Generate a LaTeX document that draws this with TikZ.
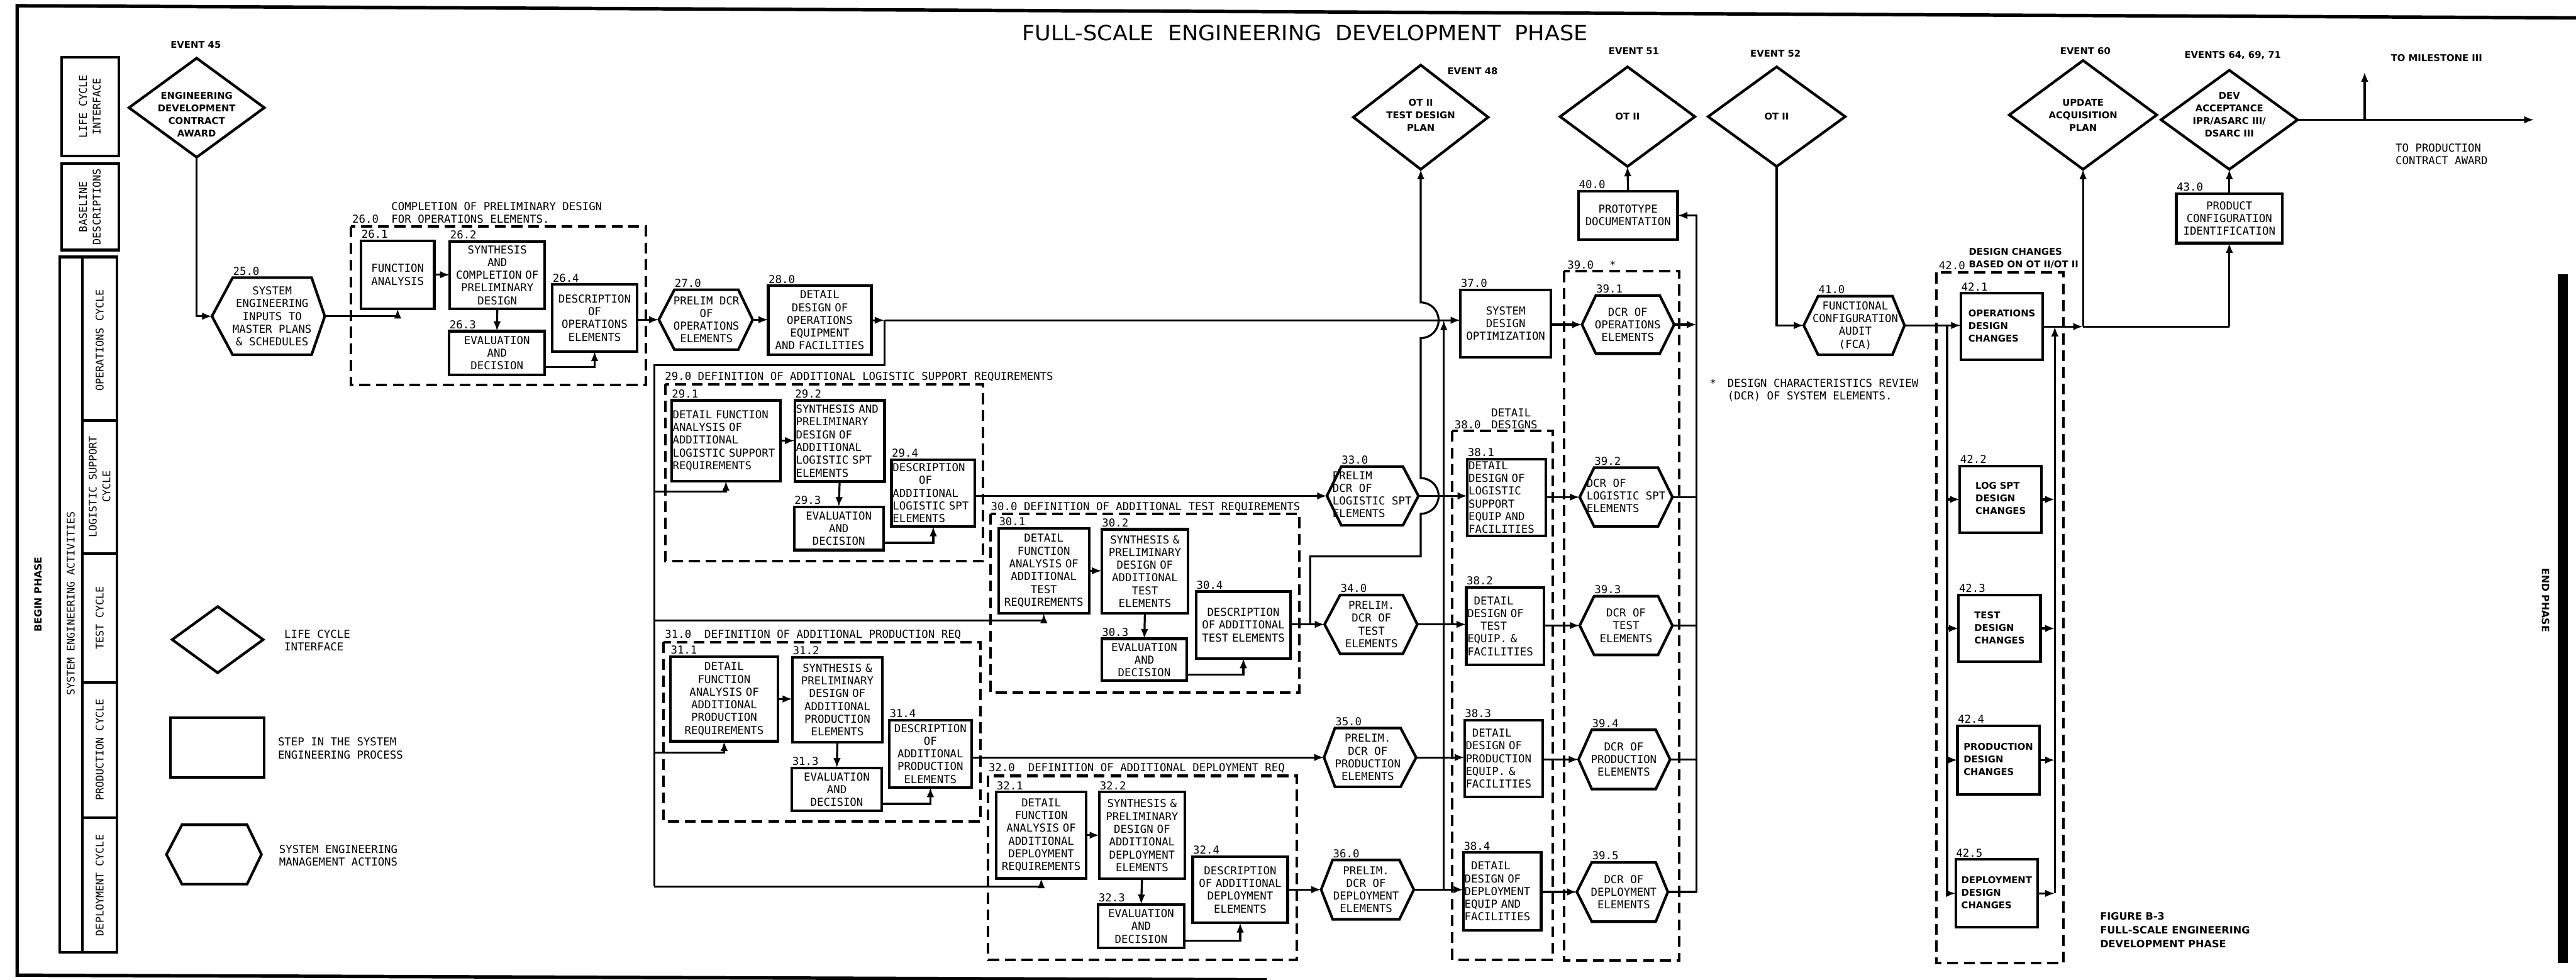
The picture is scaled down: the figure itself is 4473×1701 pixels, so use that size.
\documentclass[tikz,border=0pt]{standalone}
\usepackage{fontspec}
\usepackage{graphicx}
\usetikzlibrary{shapes.geometric,arrows.meta,calc}
\newfontfamily\monofam{DejaVu Sans Mono}
\newfontfamily\sansfam{DejaVu Sans}
\newcommand\mono{\monofam\fontsize{5.4}{6.3}\selectfont}
\newcommand\bfnt{\sansfam\bfseries\fontsize{4.6}{6.2}\selectfont}
\newcommand\figfnt{\sansfam\bfseries\fontsize{5}{6.8}\selectfont}
\newcommand\phasefnt{\sansfam\bfseries\fontsize{4.9}{6}\selectfont}
\newcommand\sidefnt{\monofam\fontsize{5.2}{6.8}\selectfont}
\newcommand{\lft}[1]{\begin{tabular}{@{}l@{}}#1\end{tabular}}
% box: [opts]{name}{num}{x1}{y1}{x2}{y2}{align}{text}
\newcommand{\bx}[9][]{%
  \pgfmathsetmacro\bxcx{(#4+#6)/2}\pgfmathsetmacro\bxcy{(#5+#7)/2}%
  \pgfmathsetmacro\bxw{(#6-#4)/10}\pgfmathsetmacro\bxh{(#7-#5)/10}%
  \pgfmathsetmacro\bxtw{(#6-#4)/10-0.4}%
  \node[box, minimum width=\bxw mm, minimum height=\bxh mm, text width=\bxtw mm, align=#8, #1] (#2) at (\bxcx,\bxcy) {#9};%
  \node[numlbl] (#2n) at (#2.north west) {#3};%
}
% hexagon: {name}{num}{Lx}{x1}{y1}{x2}{y2}{Rx}{text}
\newcommand{\hx}[9]{%
  \pgfmathsetmacro\hxcx{(#4+#6)/2}\pgfmathsetmacro\hxcy{(#5+#7)/2}%
  \pgfmathsetmacro\hxw{(#6-#4)/10}\pgfmathsetmacro\hxh{(#7-#5)/10}%
  \pgfmathsetmacro\hxl{(#4-#3)/10}\pgfmathsetmacro\hxr{(#8-#6)/10}%
  \node[hexcore, minimum width=\hxw mm, minimum height=\hxh mm] (#1) at (\hxcx,\hxcy) {};%
  \draw[hexline] (#1.north west) -- (#1.north east) -- ([xshift=\hxr mm]#1.east) coordinate (#1-R) -- (#1.south east) -- (#1.south west) -- ([xshift=-\hxl mm]#1.west) coordinate (#1-L) -- cycle;%
  \node[boxtext] (#1t) at (#1.center) {#9};%
  \node[numlbl] (#1n) at (#1.north west) {#2};%
}
\begin{document}
\begin{tikzpicture}[x=0.1mm,y=-0.1mm,
  box/.style={draw, line width=1.3pt, shape=rectangle, inner xsep=0.2mm, inner ysep=0.3mm, outer sep=0pt, font=\mono},
  hexcore/.style={draw=none, shape=rectangle, inner sep=0pt, outer sep=0pt},
  hexline/.style={draw, line width=1.3pt, line join=miter},
  boxtext/.style={inner sep=0pt, font=\mono, align=center},
  numlbl/.style={anchor=south west, inner sep=0pt, yshift=0.35mm, font=\mono},
  dia/.style={diamond, draw, line width=1.3pt, inner sep=0pt, outer sep=0pt},
  btext/.style={font=\bfnt, align=center, inner sep=0pt},
  conn/.style={line width=1.0pt},
  arr/.style={conn, -{Latex[length=1.7mm,width=1.3mm]}},
  dashbox/.style={line width=1.25pt, dash pattern=on 1.9mm off 1.0mm},
  lbl/.style={font=\mono, inner sep=0pt, anchor=west},
  side/.style={font=\sidefnt, inner sep=0pt, rotate=90, align=center},
  frm/.style={line width=1.3pt},
]
\useasboundingbox (0,0) rectangle (4473,1701);
\fill[white] (0,0) rectangle (4473,1701);

% ---------- frame ----------
\draw[line width=1.7pt] (4473,31) -- (30,10) -- (30,1693) -- (2200,1701);
\fill (4441,476) rectangle (4459,1672);
\node[font=\phasefnt, rotate=90, inner sep=0pt] (begin) at (66,1032) {BEGIN PHASE};
\node[font=\phasefnt, rotate=-90, inner sep=0pt] (endp) at (4420,1042) {END PHASE};

% ---------- title ----------
\node[inner sep=0pt] (title) at (2266,57.5) {\resizebox{98.2mm}{2.7mm}{\sansfam FULL-SCALE\ \ ENGINEERING\ \ DEVELOPMENT\ \ PHASE}};

% ---------- left panel ----------
\draw[frm] (107,99) rectangle (206,271);
\draw[frm] (107,284) rectangle (206,434);
\draw[frm] (104,446) rectangle (203,1653);
\draw[frm] (143,446) -- (143,1653);
\foreach \yy in {730,961,1185,1420} \draw[frm] (143,\yy) -- (203,\yy);
\node[side] (sLCI) at (156,185) {LIFE CYCLE\\INTERFACE};
\node[side] (sBD) at (156,359) {BASELINE\\DESCRIPTIONS};
\node[side] (sSEA) at (123,1048) {SYSTEM ENGINEERING ACTIVITIES};
\node[side] (sOC) at (173,591) {OPERATIONS CYCLE};
\node[side] (sLC) at (173,845) {LOGISTIC SUPPORT\\CYCLE};
\node[side] (sTC) at (173,1073) {TEST CYCLE};
\node[side] (sPC) at (173,1302) {PRODUCTION CYCLE};
\node[side] (sDC) at (173,1537) {DEPLOYMENT CYCLE};

% ---------- legend ----------
\node[dia, minimum width=15.8mm, minimum height=11.5mm] (legD) at (378,1110.5) {};
\node[lbl, align=left] (legDt) at (493,1112) {LIFE CYCLE\\INTERFACE};
\bx{legS}{}{296}{1246}{459}{1350}{center}{}
\node[lbl, align=left] (legSt) at (482,1299) {STEP IN THE SYSTEM\\ENGINEERING PROCESS};
\hx{legH}{}{289}{316}{1432}{429}{1535}{454}{}
\node[lbl, align=left] (legHt) at (484,1485) {SYSTEM ENGINEERING\\MANAGEMENT ACTIONS};

% ---------- diamonds (life cycle interfaces) ----------
\node[dia, minimum width=23.5mm, minimum height=17.2mm] (E45) at (341.5,187) {};
\node[btext, yshift=-1.2mm] (E45t) at (E45) {ENGINEERING\\DEVELOPMENT\\CONTRACT\\AWARD};
\node[btext] (E45l) at (340,78) {EVENT 45};

\node[dia, minimum width=23.4mm, minimum height=18.1mm] (E48) at (2467,203.5) {};
\node[btext, yshift=0.4mm] (E48t) at (E48) {OT II\\TEST DESIGN\\PLAN};
\node[btext] (E48l) at (2557,124) {EVENT 48};

\node[dia, minimum width=23.4mm, minimum height=17.3mm] (E51) at (2826,202.5) {};
\node[btext] (E51t) at (E51) {OT II};
\node[btext] (E51l) at (2837,89) {EVENT 51};

\node[dia, minimum width=23.8mm, minimum height=17.3mm] (E52) at (3085,202.5) {};
\node[btext] (E52t) at (E52) {OT II};
\node[btext] (E52l) at (3083,93) {EVENT 52};

\node[dia, minimum width=25.6mm, minimum height=18.9mm] (E60) at (3617,199.5) {};
\node[btext] (E60t) at (E60) {UPDATE\\ACQUISITION\\PLAN};
\node[btext] (E60l) at (3621,89) {EVENT 60};

\node[dia, minimum width=23.7mm, minimum height=17.2mm] (E64) at (3871,208) {};
\node[btext, yshift=0.9mm] (E64t) at (E64) {DEV\\ACCEPTANCE\\IPR/ASARC III/\\DSARC III};
\node[btext] (E64l) at (3877,96) {EVENTS 64, 69, 71};

\node[font=\bfnt, anchor=west, inner sep=0pt] (tm3) at (4151,101) {TO MILESTONE III};
\node[lbl, align=left] (tpca) at (4159,268) {TO PRODUCTION\\CONTRACT AWARD};

% ---------- dashed groups ----------
\draw[dashbox] (609,393) rectangle (1121,668);
\draw[dashbox] (1155,667) rectangle (1707,974);
\draw[dashbox] (1720,892) rectangle (2256,1202);
\draw[dashbox] (1152,1115) rectangle (1703,1426);
\draw[dashbox] (1716,1347) rectangle (2252,1666);
\draw[dashbox] (2522,748) rectangle (2696,1666);
\draw[dashbox] (2716,471) rectangle (2916,1668);
\draw[dashbox] (3362,473) rectangle (3583,1672);

\node[lbl] (g26a) at (679,358) {COMPLETION OF PRELIMINARY DESIGN};
\node[lbl] (g26n) at (611,380) {26.0};
\node[lbl] (g26b) at (679,380) {FOR OPERATIONS ELEMENTS.};
\node[lbl] (g29) at (1154,654) {29.0 DEFINITION OF ADDITIONAL LOGISTIC SUPPORT REQUIREMENTS};
\node[lbl] (g30) at (1720,880) {30.0 DEFINITION OF ADDITIONAL TEST REQUIREMENTS};
\node[lbl] (g31) at (1154,1102) {31.0\ \ DEFINITION OF ADDITIONAL PRODUCTION REQ};
\node[lbl] (g32) at (1716,1334) {32.0\ \ DEFINITION OF ADDITIONAL DEPLOYMENT REQ};
\node[lbl] (g38n) at (2525,737) {38.0};
\node[lbl] (g38a) at (2589,716) {DETAIL};
\node[lbl] (g38b) at (2589,737) {DESIGNS};
\node[lbl] (g39n) at (2721,460) {39.0};
\node[lbl] (g39s) at (2794,460) {*};
\node[lbl] (g42n) at (3366,461) {42.0};
\node[font=\bfnt, anchor=west, inner sep=0pt, align=left] (g42t) at (3418,449) {DESIGN CHANGES\\BASED ON OT II/OT II};
\node[lbl] (star) at (2968,665) {*};
\node[lbl, align=left] (dcrnote) at (2999,677) {DESIGN CHARACTERISTICS REVIEW\\(DCR) OF SYSTEM ELEMENTS.};
\node[font=\figfnt, anchor=west, inner sep=0pt, align=left] (fig) at (3646,1615) {FIGURE B-3\\FULL-SCALE ENGINEERING\\DEVELOPMENT PHASE};

% ---------- hexagons ----------
\hx{h25}{25.0}{368}{404}{482}{541}{616}{564}{SYSTEM\\ENGINEERING\\INPUTS TO\\MASTER PLANS\\\& SCHEDULES}
\hx{h27}{27.0}{1144}{1171}{503}{1282}{607}{1307}{PRELIM DCR\\OF\\OPERATIONS\\ELEMENTS}
\hx{h33}{33.0}{2304}{2329}{810}{2436}{912}{2463}{\lft{PRELIM\\DCR OF\\LOGISTIC SPT\\ELEMENTS}}
\hx{h34}{34.0}{2300}{2327}{1033}{2436}{1135}{2461}{PRELIM.\\DCR OF\\TEST\\ELEMENTS}
\hx{h35}{35.0}{2299}{2318}{1264}{2432}{1366}{2459}{PRELIM.\\DCR OF\\PRODUCTION\\ELEMENTS}
\hx{h36}{36.0}{2294}{2314}{1493}{2430}{1596}{2455}{PRELIM.\\DCR OF\\DEPLOYMENT\\ELEMENTS}
\hx{h391}{39.1}{2747}{2771}{513}{2882}{614}{2907}{DCR OF\\OPERATIONS\\ELEMENTS}
\hx{h392}{39.2}{2743}{2768}{812}{2879}{914}{2904}{\lft{DCR OF\\LOGISTIC SPT\\ELEMENTS}}
\hx{h393}{39.3}{2743}{2768}{1035}{2879}{1137}{2904}{DCR OF\\TEST\\ELEMENTS}
\hx{h394}{39.4}{2741}{2764}{1267}{2875}{1370}{2900}{DCR OF\\PRODUCTION\\ELEMENTS}
\hx{h395}{39.5}{2738}{2764}{1497}{2875}{1600}{2896}{DCR OF\\DEPLOYMENT\\ELEMENTS}
\hx{h41}{41.0}{3132}{3157}{514}{3286}{616}{3307}{FUNCTIONAL\\CONFIGURATION\\AUDIT\\(FCA)}

% ---------- boxes ----------
\bx{b261}{26.1}{627}{418}{754}{536}{center}{FUNCTION\\ANALYSIS}
\bx{b262}{26.2}{781}{419}{946}{536}{center}{SYNTHESIS\\AND\\COMPLETION OF\\PRELIMINARY\\DESIGN}
\bx{b263}{26.3}{780}{575}{946}{651}{center}{EVALUATION\\AND\\DECISION}
\bx{b264}{26.4}{959}{494}{1106}{610}{center}{DESCRIPTION\\OF\\OPERATIONS\\ELEMENTS}
\bx{b28}{28.0}{1334}{496}{1513}{616}{center}{DETAIL\\DESIGN OF\\OPERATIONS\\EQUIPMENT\\AND FACILITIES}
\bx{b291}{29.1}{1166}{695}{1355}{835}{left}{DETAIL FUNCTION\\ANALYSIS OF\\ADDITIONAL\\LOGISTIC SUPPORT\\REQUIREMENTS}
\bx{b292}{29.2}{1380}{695}{1536}{836}{left}{SYNTHESIS AND\\PRELIMINARY\\DESIGN OF\\ADDITIONAL\\LOGISTIC SPT\\ELEMENTS}
\bx{b293}{29.3}{1379}{880}{1534}{955}{center}{EVALUATION\\AND\\DECISION}
\bx{b294}{29.4}{1548}{798}{1693}{914}{left}{DESCRIPTION\\\hphantom{DESC}OF\\ADDITIONAL\\LOGISTIC SPT\\ELEMENTS}
\bx{b301}{30.1}{1734}{917}{1891}{1065}{center}{DETAIL\\FUNCTION\\ANALYSIS OF\\ADDITIONAL\\TEST\\REQUIREMENTS}
\bx{b302}{30.2}{1913}{919}{2063}{1065}{center}{SYNTHESIS \&\\PRELIMINARY\\DESIGN OF\\ADDITIONAL\\TEST\\ELEMENTS}
\bx{b303}{30.3}{1913}{1109}{2061}{1182}{center}{EVALUATION\\AND\\DECISION}
\bx{b304}{30.4}{2077}{1027}{2241}{1143}{center}{DESCRIPTION\\OF ADDITIONAL\\TEST ELEMENTS}
\bx{b311}{31.1}{1164}{1140}{1351}{1287}{center}{DETAIL\\FUNCTION\\ANALYSIS OF\\ADDITIONAL\\PRODUCTION\\REQUIREMENTS}
\bx{b312}{31.2}{1376}{1141}{1532}{1289}{center}{SYNTHESIS \&\\PRELIMINARY\\DESIGN OF\\ADDITIONAL\\PRODUCTION\\ELEMENTS}
\bx{b313}{31.3}{1375}{1333}{1531}{1408}{center}{EVALUATION\\AND\\DECISION}
\bx{b314}{31.4}{1544}{1250}{1687}{1367}{center}{DESCRIPTION\\OF\\ADDITIONAL\\PRODUCTION\\ELEMENTS}
\bx{b321}{32.1}{1730}{1375}{1886}{1525}{center}{DETAIL\\FUNCTION\\ANALYSIS OF\\ADDITIONAL\\DEPLOYMENT\\REQUIREMENTS}
\bx{b322}{32.2}{1909}{1375}{2057}{1526}{center}{SYNTHESIS \&\\PRELIMINARY\\DESIGN OF\\ADDITIONAL\\DEPLOYMENT\\ELEMENTS}
\bx{b323}{32.3}{1907}{1570}{2056}{1646}{center}{EVALUATION\\AND\\DECISION}
\bx{b324}{32.4}{2071}{1487}{2236}{1602}{center}{DESCRIPTION\\OF ADDITIONAL\\DEPLOYMENT\\ELEMENTS}
\bx{b37}{37.0}{2536}{503}{2693}{620}{center}{SYSTEM\\DESIGN\\OPTIMIZATION}
\bx{b381}{38.1}{2548}{797}{2684}{930}{left}{DETAIL\\DESIGN OF\\LOGISTIC\\SUPPORT\\EQUIP AND\\FACILITIES}
\bx{b382}{38.2}{2546}{1020}{2681}{1154}{left}{\hphantom{X}DETAIL\\DESIGN OF\\\hphantom{XX}TEST\\EQUIP. \&\\FACILITIES}
\bx{b383}{38.3}{2543}{1250}{2679}{1384}{left}{\hphantom{X}DETAIL\\DESIGN OF\\PRODUCTION\\EQUIP. \&\\FACILITIES}
\bx{b384}{38.4}{2541}{1480}{2676}{1615}{left}{\hphantom{X}DETAIL\\DESIGN OF\\DEPLOYMENT\\EQUIP AND\\FACILITIES}
\bx{b40}{40.0}{2741}{332}{2913}{416}{center}{PROTOTYPE\\DOCUMENTATION}
\bx[font=\bfnt]{b421}{42.1}{3405}{509}{3547}{625}{center}{\lft{OPERATIONS\\DESIGN\\CHANGES}}
\bx[font=\bfnt]{b422}{42.2}{3403}{809}{3545}{925}{center}{\lft{LOG SPT\\DESIGN\\CHANGES}}
\bx[font=\bfnt]{b423}{42.3}{3401}{1033}{3543}{1149}{center}{\lft{TEST\\DESIGN\\CHANGES}}
\bx[font=\bfnt]{b424}{42.4}{3399}{1260}{3541}{1379}{center}{\lft{PRODUCTION\\DESIGN\\CHANGES}}
\bx[font=\bfnt]{b425}{42.5}{3396}{1492}{3538}{1610}{center}{\lft{DEPLOYMENT\\DESIGN\\CHANGES}}
\bx{b43}{43.0}{3779}{336}{3963}{422}{center}{PRODUCT\\CONFIGURATION\\IDENTIFICATION}

% ---------- helper coordinates ----------
\coordinate (spA) at (1536,556);
\coordinate (spC) at (1136,634);
\coordinate (sp29) at (1136,853);
\coordinate (sp30) at (1136,1077);
\coordinate (sp31) at (1136,1307);
\coordinate (sp32) at (1136,1539);
\coordinate (t48a) at (2275,1084);
\coordinate (v37) at (2507,556);
\coordinate (colT) at (2946,374);
\coordinate (colB) at (2946,1548.5);
\coordinate (dL) at (3381,565);
\coordinate (dR) at (3568,567);
\coordinate (j60) at (3617,567);
\coordinate (j43) at (3871,567);
\coordinate (tPCA) at (4400,208);
\coordinate (tM3) at (4106,125);

% ---------- connectors ----------
\draw[arr] (E45.south) |- (h25-L);
\draw[arr] (h25-R) -| (b261.south);
\draw[arr] (b261.east) -- (b261.east -| b262.west);
\draw[arr] (b262.south) -- (b263.north);
\draw[arr] ([yshift=-2.4mm]b263.east) -| (b264.south);
\draw[arr] (h27-L -| b264.east) -- (h27-L);
\draw[arr] (h27-R) -- (h27-R -| b28.west);
\draw[arr] (b28.east) -- (spA);
\draw[arr] (spA) -- (spA -| b37.west);
% spine
\draw[conn] (spA) |- (spC) -- (sp32);
\draw[arr] (sp29) -| (b291.south);
\draw[arr] (sp30) -| (b301.south);
\draw[arr] (sp31) -| (b311.south);
\draw[arr] (sp32) -| (b321.south);
% 29
\draw[arr] (b291.east) -- (b291.east -| b292.west);
\draw[arr] (b292.south) -- (b293.north);
\draw[arr] ([yshift=-2.5mm]b293.east) -| (b294.south);
\draw[arr] (h33-L -| b294.east) -- (h33-L);
% 30
\draw[arr] (b301.east) -- (b301.east -| b302.west);
\draw[arr] (b302.south) -- (b303.north);
\draw[arr] ([yshift=-2.6mm]b303.east) -| (b304.south);
\draw[arr] (h34-L -| b304.east) -- (h34-L);
% 31
\draw[arr] (b311.east) -- (b311.east -| b312.west);
\draw[arr] (b312.south) -- (b313.north);
\draw[arr] ([yshift=-2.5mm]b313.east) -| (b314.south);
\draw[arr] (h35-L -| b314.east) -- (h35-L);
% 32
\draw[arr] (b321.east) -- (b321.east -| b322.west);
\draw[arr] (b322.south) -- (b323.north);
\draw[arr] ([yshift=-2.5mm]b323.east) -| (b324.south);
\draw[arr] (h36-L -| b324.east) -- (h36-L);
% hex -> detail designs
\draw[arr] (h33-R) -- (h33-R -| b381.west);
\draw[arr] (h34-R) -- (h34-R -| b382.west);
\draw[arr] (h35-R) -- (h35-R -| b383.west);
\draw[arr] (h36-R) -- (h36-R -| b384.west);
% feedback to main line
\draw[arr] (v37 |- h36-R) -- (v37);
% test line up to event 48 with jumps
\draw[arr] (t48a) -- (2275,966) -- (2467,966) -- (2467,892) arc[start angle=-90, end angle=90, radius=3.1mm] -- (2467,587) arc[start angle=-90, end angle=90, radius=3.1mm] -- (E48.south);
% detail designs -> DCR
\draw[arr] (h391-L -| b37.east) -- (h391-L);
\draw[arr] (h392-L -| b381.east) -- (h392-L);
\draw[arr] (h393-L -| b382.east) -- (h393-L);
\draw[arr] (h394-L -| b383.east) -- (h394-L);
\draw[arr] (h395-L -| b384.east) -- (h395-L);
% DCR collector
\draw[arr] (h391-R) -- (h391-R -| colT);
\draw[conn] (h392-R) -- (h392-R -| colT);
\draw[conn] (h393-R) -- (h393-R -| colT);
\draw[conn] (h394-R) -- (h394-R -| colT);
\draw[conn] (h395-R) -- (colB);
\draw[arr] (colB) -- (colT) -- (b40.east);
\draw[arr] (b40.north) -- (E51.south);
% event 52 -> FCA -> 42
\draw[arr] (E52.south) |- (h41-L);
\draw[arr] (h41-R) -- (h41-R -| b421.west);
\draw[conn] (dL) -- (dL |- b425.west);
\draw[arr] (dL |- b422.west) -- (b422.west);
\draw[arr] (dL |- b423.west) -- (b423.west);
\draw[arr] (dL |- b424.west) -- (b424.west);
\draw[arr] (dL |- b425.west) -- (b425.west);
\draw[arr] (b422.east) -- (b422.east -| dR);
\draw[arr] (b423.east) -- (b423.east -| dR);
\draw[arr] (b424.east) -- (b424.east -| dR);
\draw[arr] (b425.east) -- (b425.east -| dR);
\draw[arr] (b425.east -| dR) -- (dR);
\draw[arr] (b421.east) -- (j60);
\draw[conn] (j60) -- (j43);
\draw[arr] (j60) -- (E60.south);
\draw[arr] (j43) -- (b43.south);
\draw[arr] (b43.north) -- (E64.south);
\draw[arr] (E64.east) -- (tPCA);
\draw[arr] (tM3 |- E64.east) -- (tM3);
\end{tikzpicture}
\end{document}
